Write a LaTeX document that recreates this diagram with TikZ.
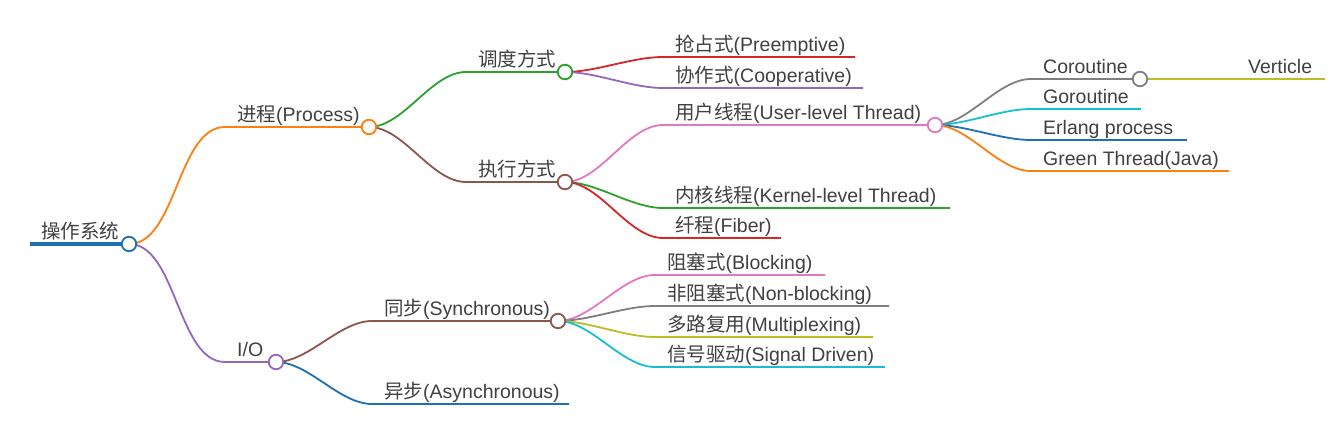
\documentclass[tikz,border=0pt]{standalone}
\usepackage{fontspec}
\setmainfont{Liberation Sans}
\newfontfamily\cjk{Noto Sans CJK SC}
\usetikzlibrary{backgrounds}
\definecolor{cBlue}{HTML}{1F6FB4}
\definecolor{cOrange}{HTML}{FF7F0E}
\definecolor{cPurple}{HTML}{9467BD}
\definecolor{cGreen}{HTML}{2CA02C}
\definecolor{cBrown}{HTML}{8C564B}
\definecolor{cRed}{HTML}{D62728}
\definecolor{cPink}{HTML}{E377C2}
\definecolor{cGray}{HTML}{7F7F7F}
\definecolor{cOlive}{HTML}{BCBD22}
\definecolor{cCyan}{HTML}{17BECF}
\definecolor{txt}{HTML}{404040}
\begin{document}
\begin{tikzpicture}[x=1pt,y=-1pt,
  dot/.style={circle, draw, fill=white, line width=1.8pt, minimum size=14.5pt, inner sep=0pt},
  lab/.style={anchor=base west, inner sep=0pt, text=txt, font=\fontsize{19.5}{19.5}\selectfont},
  br/.style={line width=1.8pt},
  cv/.style={br, out=0, in=180, looseness=0.8}]
\useasboundingbox (0,0) rectangle (1344,443);

% ---- nodes (circles) ----
\node[dot, draw=cBlue] (root) at (129,244) {};
\node[dot, draw=cOrange] (proc) at (369,127) {};
\node[dot, draw=cPurple] (io) at (276,362) {};
\node[dot, draw=cGreen] (sched) at (565,72) {};
\node[dot, draw=cBrown] (exec) at (565,182) {};
\node[dot, draw=cPink] (user) at (935,125) {};
\node[dot, draw=cGray] (corou) at (1140,79) {};
\node[dot, draw=cBrown] (sync) at (558,321) {};

% ---- line starts / ends ----
\coordinate (root-s) at (30,244);
\coordinate (proc-s) at (225,127);
\coordinate (io-s) at (225,362);
\coordinate (sched-s) at (466,72);
\coordinate (exec-s) at (466,182);
\coordinate (sync-s) at (372,321);
\coordinate (async-s) at (372,404); \coordinate (async-e) at (569,404);
\coordinate (pre-s) at (663,57);  \coordinate (pre-e) at (855,57);
\coordinate (coop-s) at (663,88); \coordinate (coop-e) at (863,88);
\coordinate (user-s) at (663,125);
\coordinate (kern-s) at (663,208); \coordinate (kern-e) at (950,208);
\coordinate (fib-s) at (663,238);  \coordinate (fib-e) at (781,238);
\coordinate (corou-s) at (1031,79);
\coordinate (gor-s) at (1031,109); \coordinate (gor-e) at (1141,109);
\coordinate (erl-s) at (1031,140); \coordinate (erl-e) at (1187,140);
\coordinate (grn-s) at (1031,171); \coordinate (grn-e) at (1229,171);
\coordinate (vert-s) at (1236,79); \coordinate (vert-e) at (1325,79);
\coordinate (blk-s) at (655,275); \coordinate (blk-e) at (825,275);
\coordinate (nblk-s) at (655,306); \coordinate (nblk-e) at (889,306);
\coordinate (mux-s) at (655,337); \coordinate (mux-e) at (873,337);
\coordinate (sig-s) at (655,367); \coordinate (sig-e) at (885,367);

% ---- labels ----
\node[lab] (root-t) at (41,239) {{\cjk 操作系统}};
\node[lab] (proc-t) at (237,122) {{\cjk 进程}(Process)};
\node[lab] (io-t) at (237,357) {I/O};
\node[lab] (sched-t) at (478,67) {{\cjk 调度方式}};
\node[lab] (exec-t) at (478,177) {{\cjk 执行方式}};
\node[lab] (pre-t) at (675,52) {{\cjk 抢占式}(Preemptive)};
\node[lab] (coop-t) at (675,83) {{\cjk 协作式}(Cooperative)};
\node[lab] (user-t) at (675,120) {{\cjk 用户线程}(User-level Thread)};
\node[lab] (kern-t) at (675,203) {{\cjk 内核线程}(Kernel-level Thread)};
\node[lab] (fib-t) at (675,233) {{\cjk 纤程}(Fiber)};
\node[lab] (corou-t) at (1043,74) {Coroutine};
\node[lab] (vert-t) at (1248,74) {Verticle};
\node[lab] (gor-t) at (1043,104) {Goroutine};
\node[lab] (erl-t) at (1043,135) {Erlang process};
\node[lab] (grn-t) at (1043,166) {Green Thread(Java)};
\node[lab] (sync-t) at (384,316) {{\cjk 同步}(Synchronous)};
\node[lab] (async-t) at (384,399) {{\cjk 异步}(Asynchronous)};
\node[lab] (blk-t) at (667,270) {{\cjk 阻塞式}(Blocking)};
\node[lab] (nblk-t) at (667,301) {{\cjk 非阻塞式}(Non-blocking)};
\node[lab] (mux-t) at (667,332) {{\cjk 多路复用}(Multiplexing)};
\node[lab] (sig-t) at (667,362) {{\cjk 信号驱动}(Signal Driven)};

% ---- connectors (behind) ----
\begin{scope}[on background layer]
\draw[line width=4.5pt, cBlue] (root-s) -- (root.center);
\draw[cv, cOrange] (root.center) to (proc-s) -- (proc.center);
\draw[cv, cPurple] (root.center) to (io-s) -- (io.center);
\draw[cv, cGreen] (proc.center) to (sched-s) -- (sched.center);
\draw[cv, cBrown] (proc.center) to (exec-s) -- (exec.center);
\draw[cv, cRed] (sched.center) to (pre-s) -- (pre-e);
\draw[cv, cPurple] (sched.center) to (coop-s) -- (coop-e);
\draw[cv, cPink] (exec.center) to (user-s) -- (user.center);
\draw[cv, cGreen] (exec.center) to (kern-s) -- (kern-e);
\draw[cv, cRed] (exec.center) to (fib-s) -- (fib-e);
\draw[cv, cGray] (user.center) to (corou-s) -- (corou.center);
\draw[cv, cCyan] (user.center) to (gor-s) -- (gor-e);
\draw[cv, cBlue] (user.center) to (erl-s) -- (erl-e);
\draw[cv, cOrange] (user.center) to (grn-s) -- (grn-e);
\draw[br, cOlive] (corou.center) -- (vert-s) -- (vert-e);
\draw[cv, cBrown] (io.center) to (sync-s) -- (sync.center);
\draw[cv, cBlue] (io.center) to (async-s) -- (async-e);
\draw[cv, cPink] (sync.center) to (blk-s) -- (blk-e);
\draw[cv, cGray] (sync.center) to (nblk-s) -- (nblk-e);
\draw[cv, cOlive] (sync.center) to (mux-s) -- (mux-e);
\draw[cv, cCyan] (sync.center) to (sig-s) -- (sig-e);
\end{scope}
\end{tikzpicture}
\end{document}
